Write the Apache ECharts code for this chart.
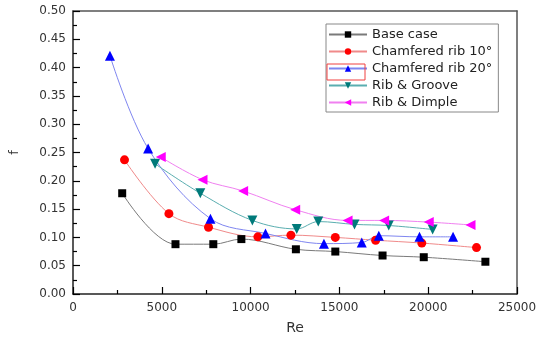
<!DOCTYPE html>
<html>
<head>
<meta charset="utf-8">
<script src="https://cdn.jsdelivr.net/npm/echarts@6/dist/echarts.min.js"></script>
<style>
  html, body { margin: 0; padding: 0; background: #fff; }
  #chart { width: 544px; height: 340px; }
</style>
</head>
<body>
<div id="chart"></div>
<script>
const seriesNames = ['Base case', 'Chamfered rib 10°', 'Chamfered rib 20°', 'Rib & Groove', 'Rib & Dimple'];

const baseRe = [2770, 5770, 7900, 9480, 12550, 14770, 17430, 19750, 23220];
const baseF = [0.178, 0.088, 0.088, 0.097, 0.079, 0.075, 0.068, 0.065, 0.057];

const cham10Re = [2900, 5400, 7630, 10410, 12270, 14770, 17040, 19640, 22720];
const cham10F = [0.237, 0.142, 0.118, 0.101, 0.104, 0.100, 0.095, 0.090, 0.082];

const cham20Re = [2080, 4230, 7740, 10840, 14130, 16260, 17220, 19510, 21400];
const cham20F = [0.421, 0.257, 0.133, 0.107, 0.089, 0.091, 0.103, 0.101, 0.101];

const grooveRe = [4620, 7170, 10100, 12600, 13810, 15850, 17780, 20250];
const grooveF = [0.230, 0.178, 0.130, 0.115, 0.128, 0.123, 0.121, 0.114];

const dimpleRe = [4940, 7290, 9580, 12510, 15460, 17520, 20030, 22380];
const dimpleF = [0.242, 0.202, 0.182, 0.149, 0.130, 0.130, 0.127, 0.122];

const xTicks = [0, 5000, 10000, 15000, 20000, 25000];
const yTicks = [0, 0.05, 0.1, 0.15, 0.2, 0.25, 0.3, 0.35, 0.4, 0.45, 0.5];

const zip = (xs, ys) => xs.map((x, i) => [x, ys[i]]);

const FONT = 'DejaVu Sans';

const makeSeries = (name, xs, ys, symbol, rotate, markColor, lineColor, size) => ({
  name,
  type: 'line',
  smooth: 0.35,
  symbol,
  symbolRotate: rotate,
  symbolSize: size,
  showSymbol: true,
  itemStyle: { color: markColor },
  lineStyle: { color: lineColor, width: 1 },
  emphasis: { disabled: true },
  data: zip(xs, ys),
  z: 3,
});

const chart = echarts.init(document.getElementById('chart'));

const mainAxis = (extra) => Object.assign({
  type: 'value',
  axisLine: { show: true, onZero: false, lineStyle: { color: '#222', width: 1.5 } },
  axisTick: { show: true, inside: true, length: 7, lineStyle: { color: '#000', width: 1.2 } },
  minorTick: { show: true, splitNumber: 2, length: 4, lineStyle: { color: '#000', width: 1.2 } },
  splitLine: { show: false },
}, extra);

// plain frame line on the top and right sides
const frameAxis = (position, min, max) => ({
  type: 'value', position, min, max,
  axisLine: { show: true, onZero: false, lineStyle: { color: '#555', width: 1.5 } },
  axisTick: { show: false },
  axisLabel: { show: false },
  splitLine: { show: false },
});

chart.setOption({
  animation: false,
  backgroundColor: '#fff',
  grid: { left: 68, right: 27, top: 11, bottom: 43 },
  legend: {
    orient: 'vertical',
    left: 326, top: 24,
    padding: [4, 6, 3, 2],
    borderColor: '#888', borderWidth: 1,
    itemWidth: 38, itemHeight: 8, itemGap: 4,
    textStyle: { color: '#222', fontFamily: FONT, fontSize: 13 },
    data: seriesNames,
  },
  graphic: [{
    type: 'rect',
    shape: { x: 327, y: 64, width: 38, height: 16 },
    style: { fill: 'none', stroke: '#f04040', lineWidth: 1 },
    z: 100,
  }],
  xAxis: [
    mainAxis({
      min: xTicks[0], max: xTicks[xTicks.length - 1], interval: 5000,
      name: 'Re', nameLocation: 'middle', nameGap: 27,
      nameTextStyle: { color: '#333', fontFamily: FONT, fontSize: 14 },
      axisLabel: { color: '#333', fontFamily: FONT, fontSize: 12, margin: 8, formatter: v => String(v) },
    }),
    frameAxis('top', xTicks[0], xTicks[xTicks.length - 1]),
  ],
  yAxis: [
    mainAxis({
      min: yTicks[0], max: yTicks[yTicks.length - 1], interval: 0.05,
      name: 'f', nameLocation: 'middle', nameGap: 52, nameRotate: 90,
      nameTextStyle: { color: '#333', fontFamily: FONT, fontSize: 13 },
      axisLabel: { color: '#333', fontFamily: FONT, fontSize: 12, margin: 7, formatter: v => v.toFixed(2) },
    }),
    frameAxis('right', yTicks[0], yTicks[yTicks.length - 1]),
  ],
  series: [
    makeSeries(seriesNames[0], baseRe, baseF, 'rect', 0, '#000', '#7a7a7a', 8),
    makeSeries(seriesNames[1], cham10Re, cham10F, 'circle', 0, '#ff0000', '#f08a8a', 9),
    makeSeries(seriesNames[2], cham20Re, cham20F, 'triangle', 0, '#0000ff', '#7f86f0', 10),
    makeSeries(seriesNames[3], grooveRe, grooveF, 'triangle', 180, '#007a7a', '#5aaeb0', 10),
    makeSeries(seriesNames[4], dimpleRe, dimpleF, 'triangle', 90, '#ff00ff', '#f080f0', 10),
  ],
});
</script>
</body>
</html>
